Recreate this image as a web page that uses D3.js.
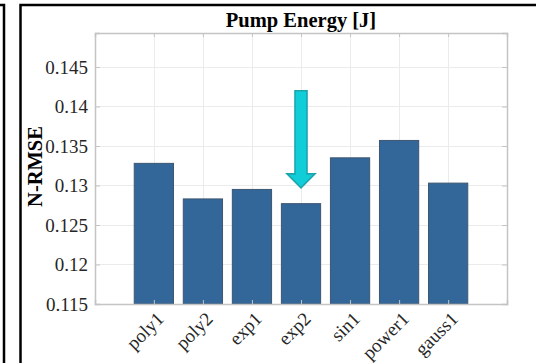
<!DOCTYPE html>
<html>
<head>
<meta charset="utf-8">
<script src="https://cdn.jsdelivr.net/npm/d3@7"></script>
<style>
  html, body { margin: 0; padding: 0; background: #fff; }
  svg { display: block; }
</style>
</head>
<body>
<svg id="chart" width="536" height="363"></svg>
<script>
// Normalised RMSE of each fit model for pump energy
const models = ["poly1", "poly2", "exp1", "exp2", "sin1", "power1", "gauss1"];
const nrmse = [0.1328, 0.1283, 0.1295, 0.1277, 0.1335, 0.1357, 0.1303];
const yTicks = [0.115, 0.12, 0.125, 0.13, 0.135, 0.14, 0.145];
const yTickLabels = ["0.115", "0.12", "0.125", "0.13", "0.135", "0.14", "0.145"];
// Arrow marking the best model: from value, to value
const bestModel = "exp2";
const arrowFrom = 0.1420;
const arrowTo = 0.1297;

const svg = d3.select("#chart");
const plot = { left: 95, right: 507, top: 33, bottom: 304 };

const x = d3.scaleLinear().domain([-0.2, models.length + 1.2]).range([plot.left, plot.right]);
const y = d3.scaleLinear().domain([0.115, 0.1493]).range([plot.bottom, plot.top]);
const barW = (x(1) - x(0)) * 0.8;
const serif = "'Liberation Serif', 'Times New Roman', serif";

// Figure panel frame
const frame = svg.append("g").attr("stroke", "#000").attr("stroke-width", 2.5).attr("fill", "none");
frame.append("path").attr("d", "M0,5H4V363");
frame.append("path").attr("d", "M20.5,363V5H536");

// Grid
const grid = svg.append("g").attr("stroke", "#ebebeb").attr("stroke-width", 1);
grid.selectAll("line.h").data(yTicks).join("line")
  .attr("x1", plot.left).attr("x2", plot.right)
  .attr("y1", d => Math.round(y(d)) + 0.5).attr("y2", d => Math.round(y(d)) + 0.5);
grid.selectAll("line.v").data(models).join("line")
  .attr("x1", (d, i) => Math.round(x(i + 1)) + 0.5).attr("x2", (d, i) => Math.round(x(i + 1)) + 0.5)
  .attr("y1", plot.top).attr("y2", plot.bottom);

// Bars
svg.append("g").selectAll("rect").data(models).join("rect")
  .attr("x", (d, i) => x(i + 1) - barW / 2)
  .attr("width", barW)
  .attr("y", (d, i) => y(nrmse[i]))
  .attr("height", (d, i) => y(0.115) - y(nrmse[i]))
  .attr("fill", "#336699")
  .attr("stroke", "#3d5670")
  .attr("stroke-width", 1);

// Axes (MATLAB style: inward ticks, box)
const axisColor = "#c4c4c4";
const yLeft = svg.append("g").attr("transform", `translate(${plot.left},0)`)
  .call(d3.axisLeft(y).tickValues(yTicks).tickSize(-5).tickPadding(7).tickFormat((d, i) => yTickLabels[i]));
const yRight = svg.append("g").attr("transform", `translate(${plot.right},0)`)
  .call(d3.axisRight(y).tickValues(yTicks).tickSize(-5).tickFormat(""));
const xBottom = svg.append("g").attr("transform", `translate(0,${plot.bottom})`)
  .call(d3.axisBottom(x).tickValues(d3.range(1, models.length + 1)).tickSize(-4).tickFormat(""));
const xTop = svg.append("g").attr("transform", `translate(0,${plot.top})`)
  .call(d3.axisTop(x).tickValues(d3.range(1, models.length + 1)).tickSize(-4).tickFormat(""));
[yLeft, yRight, xBottom, xTop].forEach(g => {
  g.select(".domain").attr("stroke", axisColor).attr("stroke-width", 1.5);
  g.selectAll(".tick line").attr("stroke", axisColor);
});
yLeft.selectAll("text").attr("font-family", serif).attr("font-size", 19).attr("fill", "#262626");

// Rotated category labels
svg.append("g").selectAll("text").data(models).join("text")
  .attr("transform", (d, i) => `translate(${x(i + 1) + 8},${plot.bottom + 13}) rotate(-45)`)
  .attr("text-anchor", "end")
  .attr("dominant-baseline", "middle")
  .attr("font-family", serif).attr("font-size", 19).attr("fill", "#262626")
  .text(d => d);

// Title and y label
svg.append("text")
  .attr("x", (plot.left + plot.right) / 2).attr("y", 27)
  .attr("text-anchor", "middle")
  .attr("font-family", serif).attr("font-size", 20.5).attr("font-weight", "bold").attr("fill", "#000")
  .text("Pump Energy [J]");
svg.append("text")
  .attr("transform", `translate(42,${(plot.top + plot.bottom) / 2 - 2}) rotate(-90)`)
  .attr("text-anchor", "middle")
  .attr("font-family", serif).attr("font-size", 20.5).attr("font-weight", "bold").attr("fill", "#000")
  .text("N-RMSE");

// Arrow pointing at the lowest-error model
const ax = x(models.indexOf(bestModel) + 1);
const y0 = y(arrowFrom), y1 = y(arrowTo);
const shaftHalf = 6, headHalf = 14, headLen = 14;
const arrowPath = d3.path();
arrowPath.moveTo(ax - shaftHalf, y0);
arrowPath.lineTo(ax + shaftHalf, y0);
arrowPath.lineTo(ax + shaftHalf, y1 - headLen);
arrowPath.lineTo(ax + headHalf, y1 - headLen);
arrowPath.lineTo(ax, y1);
arrowPath.lineTo(ax - headHalf, y1 - headLen);
arrowPath.lineTo(ax - shaftHalf, y1 - headLen);
arrowPath.closePath();
svg.append("path").attr("d", arrowPath.toString())
  .attr("fill", "#11cdd7").attr("stroke", "#1ba6af").attr("stroke-width", 1.6)
  .attr("stroke-linejoin", "miter");
</script>
</body>
</html>
